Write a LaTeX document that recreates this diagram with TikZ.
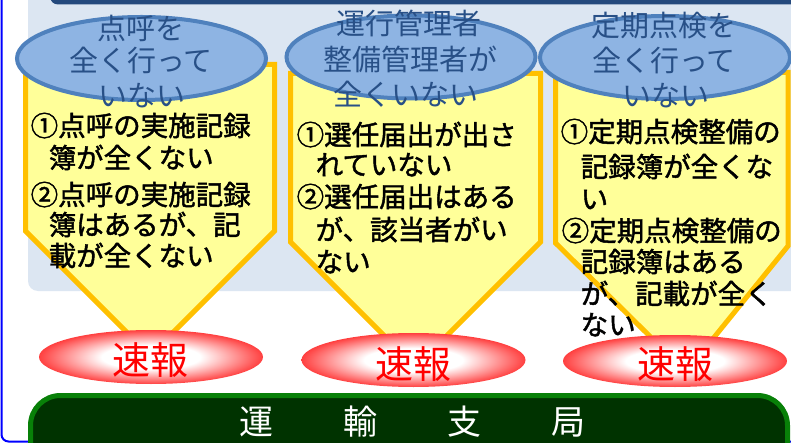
\documentclass[tikz,border=0pt]{standalone}
\usepackage{fontspec}
\newfontfamily\jp{Noto Sans CJK JP}
\newfontfamily\jpb[FakeBold=1.6]{Noto Sans CJK JP}
\definecolor{panelbg}{RGB}{220,230,242}
\definecolor{navybar}{RGB}{36,73,125}
\definecolor{ellfill}{RGB}{142,180,227}
\definecolor{ellstroke}{RGB}{79,129,189}
\definecolor{elltext}{RGB}{40,80,135}
\definecolor{yfill}{RGB}{255,255,153}
\definecolor{yborder}{RGB}{255,192,0}
\definecolor{gborder}{RGB}{8,128,8}
\definecolor{gfill}{RGB}{0,51,0}
\definecolor{frameblue}{RGB}{0,0,255}
\pgfdeclareradialshading{redglow}{\pgfpoint{0bp}{0bp}}{color(0bp)=(white); color(11bp)=(white); color(25bp)=(red!75); color(35bp)=(red); color(50bp)=(red)}
\begin{document}
\begin{tikzpicture}[x=1pt,y=-1pt,
  ybox/.style={fill=yfill, draw=yborder, line width=5, line join=miter},
  bell/.style={fill=ellfill, draw=ellstroke, line width=4},
  btxt/.style={anchor=base, inner sep=0, font=\jp\fontsize{29}{34}\selectfont, text=elltext},
  ytxt/.style={anchor=base west, inner sep=0, font=\jpb\fontsize{27.5}{32}\selectfont, text=black},
  rtxt/.style={anchor=base, inner sep=0, font=\jp\fontsize{38}{44}\selectfont, text=red},
  gtxt/.style={anchor=base, inner sep=0, font=\jp\fontsize{34}{40}\selectfont, text=white}]
\useasboundingbox (0,0) rectangle (791,443);
\fill[white] (0,0) rectangle (791,443);
% outer frame
\draw[frameblue, line width=2, rounded corners=7] (1.5,-30) rectangle (830,441.5);
% light panel
\fill[panelbg, rounded corners=10] (28,-30) rectangle (830,291);
% navy bar
\fill[navybar, rounded corners=8] (50,-30) rectangle (830,4.5);
% yellow arrow boxes
\draw[ybox] (25.5,64.5) -- (274.5,64.5) -- (274.5,231) -- (150,355.5) -- (25.5,231) -- cycle;
\draw[ybox] (290.5,73.5) -- (540.5,73.5) -- (540.5,242) -- (415.5,367) -- (290.5,242) -- cycle;
\draw[ybox] (555.5,72.5) -- (788,72.5) -- (788,246) -- (686,372) -- (555.5,243) -- cycle;
% blue ellipses
\draw[bell] (141.5,58.5) ellipse [x radius=124.5, y radius=41.5];
\draw[bell] (411,57) ellipse [x radius=124.5, y radius=41.5];
\draw[bell] (665,57.5) ellipse [x radius=125, y radius=41.5];
% blue ellipse texts
\node[btxt] (a1) at (141,39.5) {点呼を};
\node[btxt] (a2) at (141,71.5) {全く行って};
\node[btxt] (a3) at (142,106.5) {いない};
\node[btxt] (b1) at (409,34.5) {運行管理者};
\node[btxt] (b2) at (410,70.5) {整備管理者が};
\node[btxt] (b3) at (406,105.5) {全くいない};
\node[btxt] (c1) at (664,36.5) {定期点検を};
\node[btxt] (c2) at (664,71.5) {全く行って};
\node[btxt] (c3) at (666,106.5) {いない};
% red ellipses
\shade[shading=redglow] (151,357) ellipse [x radius=112, y radius=27];
\shade[shading=redglow] (413.5,360) ellipse [x radius=112, y radius=27];
\shade[shading=redglow] (675,361) ellipse [x radius=112, y radius=26];
\node[rtxt] (r1) at (150.5,374) {速報};
\node[rtxt] (r2) at (413.5,378) {速報};
\node[rtxt] (r3) at (675,378) {速報};
% yellow texts
\node[ytxt] (p1a) at (30.5,136) {①点呼の実施記録};
\node[ytxt] (p1b) at (48.5,168) {簿が全くない};
\node[ytxt] (p1c) at (30.5,205) {②点呼の実施記録};
\node[ytxt] (p1d) at (48.5,235) {簿はあるが、記};
\node[ytxt] (p1e) at (48.5,266) {載が全くない};
\node[ytxt] (p2a) at (296.5,145) {①選任届出が出さ};
\node[ytxt] (p2b) at (315.5,175) {れていない};
\node[ytxt] (p2c) at (296.5,207) {②選任届出はある};
\node[ytxt] (p2d) at (315.5,240) {が、該当者がい};
\node[ytxt] (p2e) at (315.5,272) {ない};
\node[ytxt] (p3a) at (560.5,142) {①定期点検整備の};
\node[ytxt] (p3b) at (580.5,177) {記録簿が全くな};
\node[ytxt] (p3c) at (580.5,209) {い};
\node[ytxt] (p3d) at (561.5,241) {②定期点検整備の};
\node[ytxt] (p3e) at (580.5,272) {記録簿はある};
\node[ytxt] (p3f) at (580.5,304) {が、記載が全く};
\node[ytxt] (p3g) at (580.5,335) {ない};
% green bar
\draw[draw=gborder, fill=gfill, line width=5, rounded corners=30] (30.5,395.5) rectangle (787.5,500);
\node[gtxt] (g1) at (256,434.5) {運};
\node[gtxt] (g2) at (360,434.5) {輸};
\node[gtxt] (g3) at (464,434.5) {支};
\node[gtxt] (g4) at (568,434.5) {局};
\end{tikzpicture}
\end{document}
